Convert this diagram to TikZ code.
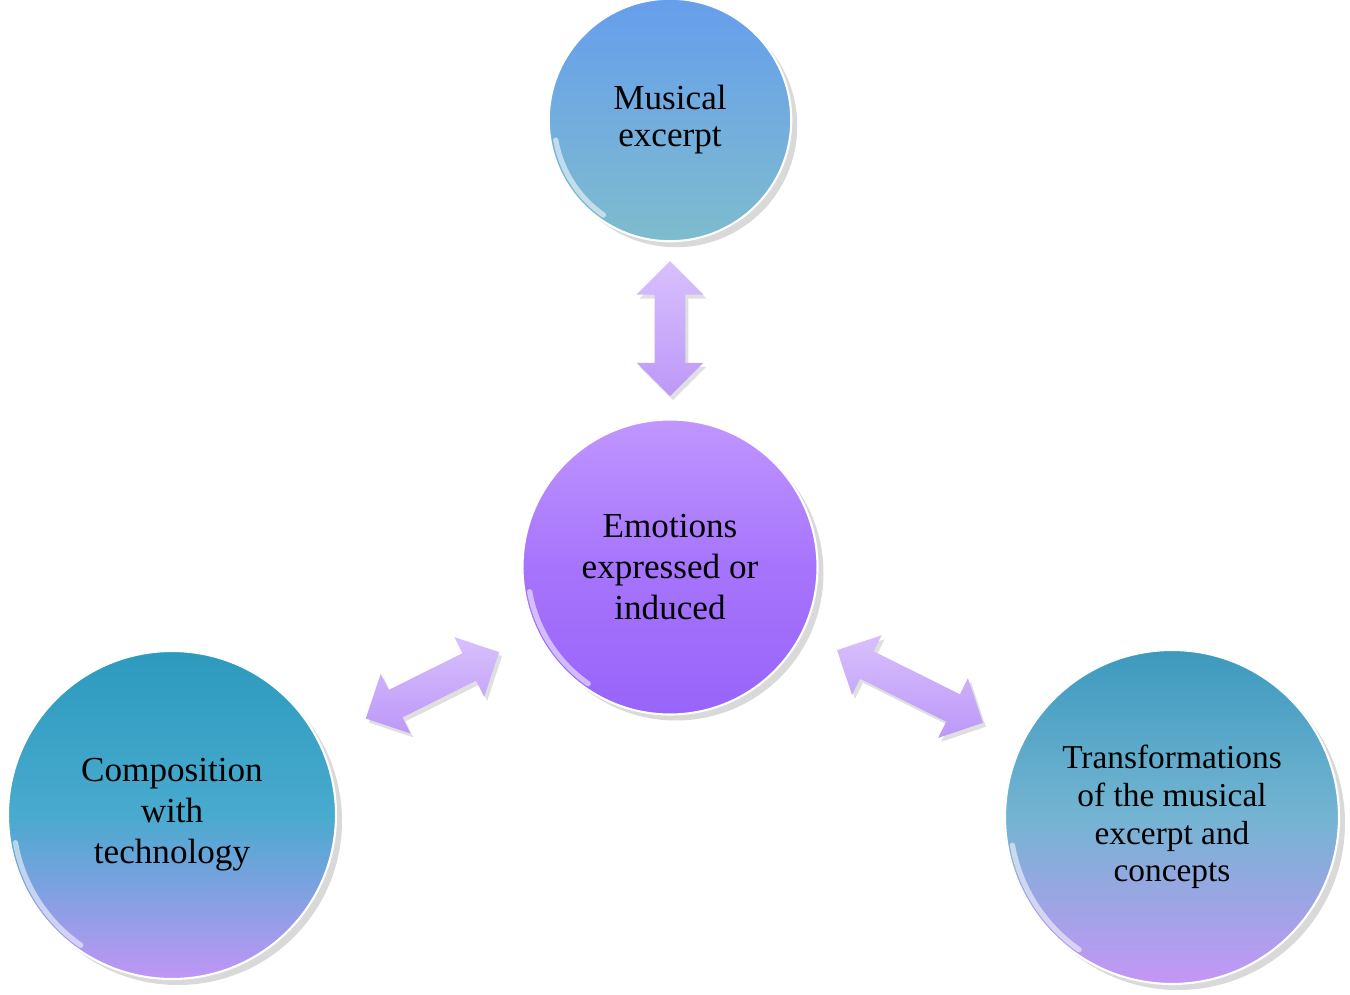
\documentclass[tikz,border=0pt]{standalone}
\usepackage{fontspec}
\setmainfont{Liberation Serif}
\usepackage{xcolor}
\usepackage{tikz}
\usetikzlibrary{shapes,arrows}
\usetikzlibrary{positioning}
\usetikzlibrary{shadows}
\usetikzlibrary{calc}
\definecolor{musTop}{RGB}{102,158,236}
\definecolor{musBot}{RGB}{126,188,206}
\definecolor{emoTop}{RGB}{192,150,255}
\definecolor{emoMid}{RGB}{166,116,252}
\definecolor{emoBot}{RGB}{152,100,250}
\definecolor{compTop}{RGB}{44,154,190}
\definecolor{compMid}{RGB}{72,170,206}
\definecolor{compBot}{RGB}{192,150,246}
\definecolor{transTop}{RGB}{60,154,190}
\definecolor{transMid}{RGB}{116,180,210}
\definecolor{transBot}{RGB}{196,150,246}
\definecolor{arrowTop}{RGB}{216,192,253}
\definecolor{arrowBot}{RGB}{188,152,248}
\tikzstyle{bubble} = [circle, draw=white, line width=1.2pt, inner sep=0pt,
    align=center, font=\fontsize{20}{23.3}\selectfont,
    drop shadow={opacity=0.3, shadow xshift=.12cm, shadow yshift=-.12cm}]
\tikzstyle{musical bubble} = [bubble, top color=musTop, bottom color=musBot,
    minimum size=4.85cm, font=\fontsize{20}{21}\selectfont]
\tikzstyle{emo bubble} = [bubble, top color=emoTop, bottom color=emoBot,
    middle color=emoMid, minimum size=5.9cm]
\tikzstyle{comp bubble} = [bubble, top color=compTop, bottom color=compBot,
    middle color=compMid, minimum size=6.56cm]
\tikzstyle{trans bubble} = [bubble, top color=transTop, bottom color=transBot,
    middle color=transMid, minimum size=6.68cm, font=\fontsize{19}{21.5}\selectfont]
\tikzstyle{dblarrow} = [double arrow, double arrow head extend=0.36cm,
    inner sep=0.3cm, anchor=center, top color=arrowTop, bottom color=arrowBot,
    drop shadow={opacity=0.25, shadow xshift=.06cm, shadow yshift=-.08cm}]
\tikzstyle{gloss} = [draw=white, line width=3pt, opacity=0.55, line cap=round]

\begin{document}
\begin{tikzpicture}[node distance = 8.94cm, auto]
  \useasboundingbox (-13.4,-8.56) rectangle (13.6,11.34);
  % Place nodes
  \node [emo bubble] (emotions) {Emotions\\expressed or\\induced};
  \node [musical bubble, above of=emotions] (excerpt) {Musical\\excerpt};
  \node [comp bubble, on grid, below left=4.96cm and 9.96cm of emotions] (composition) {Composition\\with\\technology};
  \node [trans bubble, on grid, below right=5cm and 10.04cm of emotions] (transform) {Transformations\\of the musical\\excerpt and\\concepts};

  % Gloss on the rims
  \draw [gloss] ($(excerpt.center)+(190:2.32)$) arc [start angle=190, end angle=235, radius=2.32];
  \draw [gloss] ($(emotions.center)+(190:2.85)$) arc [start angle=190, end angle=235, radius=2.85];
  \draw [gloss] ($(composition.center)+(190:3.18)$) arc [start angle=190, end angle=235, radius=3.18];
  \draw [gloss] ($(transform.center)+(190:3.24)$) arc [start angle=190, end angle=235, radius=3.24];

  % Draw arrows
  \path (emotions.center) -- node [dblarrow, pos=0.533, sloped, minimum height=2.7cm] {} (excerpt.center);
  \path (emotions.center) -- node [dblarrow, pos=0.477, sloped, minimum height=2.98cm] {} (composition.center);
  \path (emotions.center) -- node [dblarrow, pos=0.478, sloped, minimum height=3.26cm] {} (transform.center);
\end{tikzpicture}
\end{document}
